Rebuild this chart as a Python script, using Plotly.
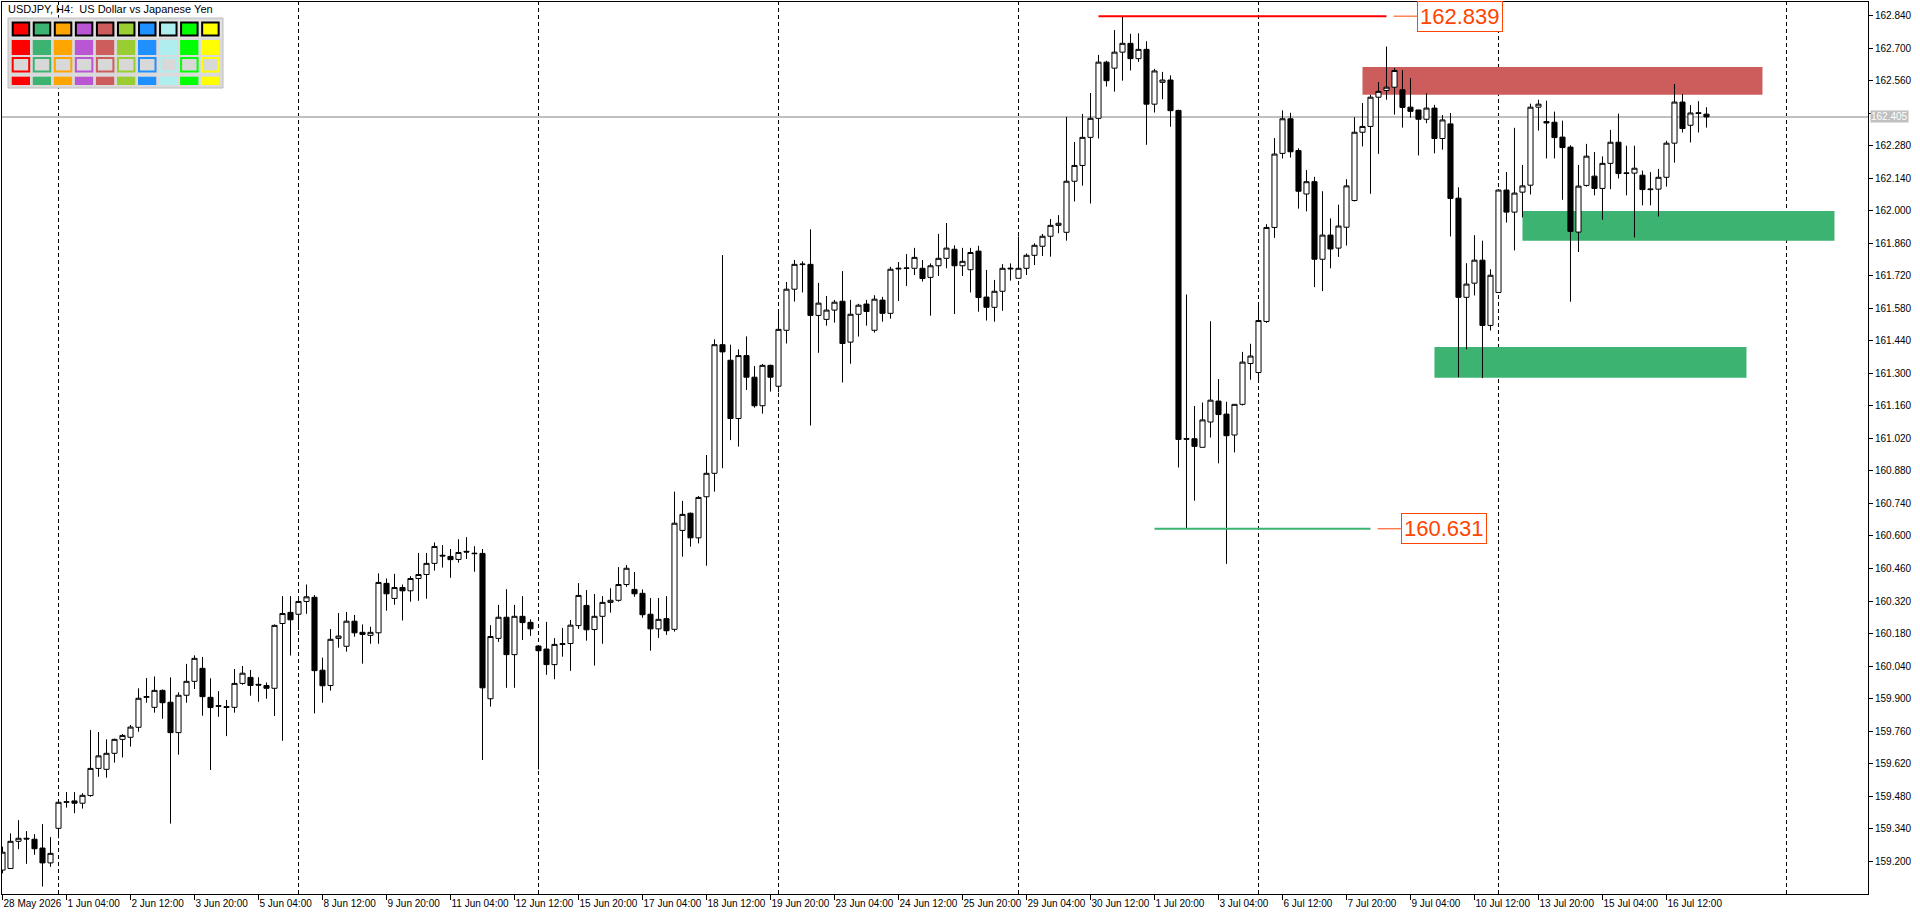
import plotly.graph_objects as go

# USDJPY H4 candles, bar 0 = 28 May 2026 20:00, one bar per 4 hours (weekends skipped)
open_ = [
    159.161, 159.168, 159.285, 159.298, 159.294, 159.256, 159.192, 159.341, 159.453, 159.459,
    159.449, 159.482, 159.599, 159.595, 159.664, 159.724, 159.733, 159.776, 159.905, 159.862,
    159.935, 159.884, 159.753, 159.914, 159.974, 160.030, 159.905, 159.869, 159.865, 159.862,
    159.965, 159.991, 159.961, 159.956, 159.944, 160.223, 160.271, 160.263, 160.318, 160.336,
    160.022, 159.956, 160.159, 160.125, 160.233, 160.185, 160.172, 160.183, 160.396, 160.331,
    160.378, 160.364, 160.417, 160.434, 160.482, 160.517, 160.512, 160.499, 160.534, 160.526,
    160.525, 159.899, 160.159, 160.250, 160.089, 160.254, 160.228, 160.126, 160.113, 160.046,
    160.133, 160.137, 160.214, 160.301, 160.197, 160.254, 160.314, 160.323, 160.391, 160.370,
    160.353, 160.263, 160.200, 160.244, 160.198, 160.624, 160.698, 160.592, 160.769, 160.870,
    161.424, 161.357, 161.106, 161.377, 161.284, 161.161, 161.335, 161.245, 161.486, 161.663,
    161.769, 161.770, 161.550, 161.533, 161.573, 161.611, 161.435, 161.555, 161.599, 161.486,
    161.616, 161.559, 161.750, 161.753, 161.753, 161.753, 161.714, 161.764, 161.796, 161.835,
    161.764, 161.747, 161.827, 161.629, 161.585, 161.654, 161.750, 161.710, 161.753, 161.809,
    161.848, 161.891, 161.938, 161.908, 162.128, 162.196, 162.317, 162.399, 162.641, 162.615,
    162.684, 162.722, 162.656, 162.696, 162.460, 162.554, 162.564, 162.433, 161.020, 161.019,
    160.982, 161.091, 161.181, 161.125, 161.035, 161.167, 161.343, 161.304, 161.524, 161.929,
    162.248, 162.397, 162.260, 162.073, 162.126, 161.792, 161.896, 161.840, 161.930, 162.045,
    162.339, 162.364, 162.490, 162.519, 162.533, 162.522, 162.447, 162.435, 162.395, 162.443,
    162.312, 162.375, 162.055, 161.628, 161.689, 161.788, 161.507, 161.649, 162.090, 161.995,
    162.081, 162.111, 162.447, 162.385, 162.382, 162.318, 162.275, 161.909, 162.110, 162.150,
    162.097, 162.205, 162.296, 162.164, 162.163, 162.154, 162.095, 162.094, 162.145, 162.292,
    162.469, 162.369, 162.423, 162.417,
]
high = [
    159.262, 159.319, 159.376, 159.329, 159.316, 159.359, 159.303, 159.463, 159.497, 159.497,
    159.492, 159.764, 159.756, 159.724, 159.727, 159.747, 159.786, 159.944, 159.988, 159.995,
    159.939, 159.991, 159.927, 160.049, 160.086, 160.079, 159.987, 159.932, 159.894, 160.027,
    160.040, 160.023, 159.992, 159.969, 160.219, 160.341, 160.341, 160.324, 160.391, 160.346,
    160.076, 160.199, 160.268, 160.273, 160.260, 160.219, 160.209, 160.439, 160.417, 160.437,
    160.391, 160.427, 160.527, 160.527, 160.572, 160.561, 160.544, 160.586, 160.595, 160.556,
    160.544, 160.216, 160.303, 160.371, 160.303, 160.341, 160.241, 160.129, 160.230, 160.160,
    160.204, 160.238, 160.397, 160.367, 160.350, 160.341, 160.375, 160.466, 160.475, 160.445,
    160.370, 160.333, 160.333, 160.341, 160.791, 160.751, 160.701, 160.772, 160.949, 161.447,
    161.810, 161.424, 161.404, 161.460, 161.332, 161.341, 161.338, 161.563, 161.694, 161.789,
    161.783, 161.921, 161.690, 161.634, 161.617, 161.741, 161.617, 161.600, 161.617, 161.637,
    161.630, 161.759, 161.780, 161.814, 161.841, 161.789, 161.774, 161.901, 161.948, 161.852,
    161.841, 161.841, 161.850, 161.746, 161.703, 161.771, 161.774, 161.890, 161.817, 161.861,
    161.901, 161.965, 161.982, 162.405, 162.297, 162.418, 162.508, 162.672, 162.647, 162.779,
    162.839, 162.763, 162.765, 162.731, 162.612, 162.599, 162.584, 162.436, 161.640, 161.160,
    161.175, 161.525, 161.276, 161.178, 161.167, 161.393, 161.428, 161.605, 161.943, 162.314,
    162.433, 162.423, 162.270, 162.176, 162.147, 162.085, 161.968, 162.027, 162.137, 162.404,
    162.465, 162.500, 162.555, 162.708, 162.616, 162.607, 162.572, 162.435, 162.507, 162.457,
    162.413, 162.422, 162.102, 161.775, 161.896, 161.872, 161.749, 162.094, 162.168, 162.358,
    162.198, 162.462, 162.479, 162.475, 162.428, 162.389, 162.283, 162.198, 162.289, 162.254,
    162.235, 162.349, 162.419, 162.281, 162.281, 162.174, 162.167, 162.181, 162.302, 162.547,
    162.504, 162.456, 162.473, 162.447,
]
low = [
    159.147, 159.167, 159.251, 159.188, 159.227, 159.090, 159.175, 159.298, 159.430, 159.406,
    159.426, 159.477, 159.563, 159.559, 159.624, 159.646, 159.693, 159.757, 159.882, 159.839,
    159.813, 159.361, 159.658, 159.882, 159.941, 159.826, 159.592, 159.821, 159.738, 159.839,
    159.959, 159.912, 159.886, 159.899, 159.825, 159.718, 160.085, 160.195, 160.265, 159.836,
    159.882, 159.934, 160.119, 160.102, 160.166, 160.050, 160.136, 160.136, 160.278, 160.304,
    160.236, 160.317, 160.321, 160.330, 160.451, 160.464, 160.420, 160.485, 160.501, 160.446,
    159.635, 159.865, 160.144, 159.946, 159.946, 160.152, 160.170, 159.594, 160.002, 159.983,
    160.080, 160.019, 160.200, 160.149, 160.042, 160.136, 160.270, 160.317, 160.381, 160.338,
    160.248, 160.106, 160.161, 160.174, 160.188, 160.511, 160.554, 160.568, 160.472, 160.791,
    160.892, 161.013, 160.985, 161.229, 161.153, 161.127, 161.222, 161.219, 161.429, 161.610,
    161.649, 161.076, 161.389, 161.506, 161.519, 161.261, 161.342, 161.459, 161.506, 161.476,
    161.523, 161.536, 161.612, 161.677, 161.724, 161.696, 161.549, 161.720, 161.753, 161.556,
    161.720, 161.649, 161.566, 161.528, 161.523, 161.570, 161.700, 161.710, 161.724, 161.767,
    161.806, 161.803, 161.904, 161.872, 162.041, 162.109, 162.032, 162.312, 162.536, 162.514,
    162.561, 162.605, 162.642, 162.285, 162.424, 162.481, 162.363, 160.895, 160.631, 160.752,
    160.982, 161.024, 160.913, 160.480, 160.960, 161.162, 161.273, 161.262, 161.518, 161.884,
    162.226, 162.230, 162.010, 161.998, 161.672, 161.655, 161.753, 161.802, 161.851, 162.041,
    162.278, 162.074, 162.246, 162.479, 162.415, 162.359, 162.402, 162.239, 162.378, 162.248,
    162.264, 161.890, 161.284, 161.404, 161.636, 161.280, 161.485, 161.649, 161.950, 161.830,
    161.972, 162.071, 162.346, 162.226, 162.226, 162.048, 161.609, 161.823, 162.105, 162.067,
    161.962, 162.094, 162.140, 162.067, 161.886, 162.024, 162.024, 161.976, 162.105, 162.208,
    162.338, 162.295, 162.338, 162.359,
]
close = [
    159.238, 159.285, 159.298, 159.295, 159.253, 159.192, 159.233, 159.453, 159.455, 159.449,
    159.483, 159.599, 159.653, 159.664, 159.724, 159.741, 159.777, 159.901, 159.908, 159.935,
    159.882, 159.753, 159.914, 159.974, 160.073, 159.908, 159.861, 159.867, 159.862, 159.965,
    160.009, 159.956, 159.958, 159.944, 160.215, 160.266, 160.239, 160.318, 160.338, 160.020,
    159.955, 160.155, 160.169, 160.233, 160.183, 160.176, 160.185, 160.400, 160.351, 160.378,
    160.364, 160.417, 160.434, 160.482, 160.555, 160.514, 160.498, 160.529, 160.531, 160.524,
    159.946, 160.167, 160.250, 160.089, 160.254, 160.227, 160.200, 160.106, 160.046, 160.133,
    160.136, 160.216, 160.344, 160.196, 160.254, 160.314, 160.323, 160.391, 160.461, 160.351,
    160.261, 160.200, 160.241, 160.192, 160.655, 160.693, 160.592, 160.766, 160.870, 161.424,
    161.393, 161.106, 161.377, 161.284, 161.161, 161.335, 161.284, 161.490, 161.663, 161.770,
    161.771, 161.550, 161.603, 161.573, 161.607, 161.429, 161.555, 161.594, 161.567, 161.620,
    161.559, 161.749, 161.753, 161.754, 161.800, 161.709, 161.764, 161.796, 161.840, 161.764,
    161.783, 161.821, 161.627, 161.585, 161.654, 161.753, 161.753, 161.753, 161.809, 161.852,
    161.891, 161.938, 161.947, 162.128, 162.196, 162.317, 162.399, 162.641, 162.561, 162.684,
    162.722, 162.656, 162.696, 162.460, 162.603, 162.564, 162.432, 161.016, 161.017, 160.986,
    161.100, 161.185, 161.123, 161.032, 161.167, 161.349, 161.375, 161.528, 161.929, 162.245,
    162.397, 162.255, 162.085, 162.126, 161.792, 161.896, 161.836, 161.935, 162.108, 162.339,
    162.364, 162.490, 162.515, 162.533, 162.605, 162.446, 162.429, 162.395, 162.443, 162.312,
    162.392, 162.054, 161.628, 161.685, 161.788, 161.507, 161.723, 162.090, 161.995, 162.077,
    162.108, 162.447, 162.460, 162.379, 162.316, 162.273, 161.912, 162.107, 162.236, 162.097,
    162.205, 162.296, 162.161, 162.162, 162.184, 162.092, 162.092, 162.145, 162.292, 162.469,
    162.355, 162.422, 162.420, 162.405,
]

# time axis labels, one every 8 bars starting at bar 0
tick_labels = [
    "28 May 2026", "1 Jun 04:00", "2 Jun 12:00", "3 Jun 20:00", "5 Jun 04:00", "8 Jun 12:00",
    "9 Jun 20:00", "11 Jun 04:00", "12 Jun 12:00", "15 Jun 20:00", "17 Jun 04:00", "18 Jun 12:00",
    "19 Jun 20:00", "23 Jun 04:00", "24 Jun 12:00", "25 Jun 20:00", "29 Jun 04:00", "30 Jun 12:00",
    "1 Jul 20:00", "3 Jul 04:00", "6 Jul 12:00", "7 Jul 20:00", "9 Jul 04:00", "10 Jul 12:00",
    "13 Jul 20:00", "15 Jul 04:00", "16 Jul 12:00",
]
week_starts = [7, 37, 67, 97, 127, 157, 187, 223]   # period separators (bar index)

# price scale: 159.200 .. 162.840 every 0.140
price_ticks = [159.20, 159.34, 159.48, 159.62, 159.76, 159.90, 160.04, 160.18, 160.32,
               160.46, 160.60, 160.74, 160.88, 161.02, 161.16, 161.30, 161.44, 161.58,
               161.72, 161.86, 162.00, 162.14, 162.28, 162.42, 162.56, 162.70, 162.84]

bid_price = 162.405
high_mark = 162.839
high_mark_bars = [137, 173]
low_mark = 160.631
low_mark_bars = [144, 171]

# supply / demand zones: bar from, bar to, price bottom, price top
zone_bars = [[170, 220], [190, 229], [179, 218]]
zone_prices = [[162.501, 162.620], [161.872, 162.000], [161.282, 161.414]]
zone_colors = ["#CD5C5C", "#3CB371", "#3CB371"]

palette = ["#FF0000", "#3CB371", "#FFA500", "#BA55D3", "#CD5C5C",
           "#9ACD32", "#1E90FF", "#AFEEEE", "#00FF00", "#FFFF00"]

FONT = "Liberation Sans Narrow, Liberation Sans, Arial, sans-serif"
ORANGE = "#FF4500"
W, H = 1920, 915
ML, MR, MT, MB = 2, 52, 2, 21


def paper(x, y):
    # screen pixel -> paper coords (used only for the UI panel)
    return (x - ML) / (W - ML - MR), (H - MB - y) / (H - MT - MB)


def panel_rect(fig, x0, y0, x1, y1, **kw):
    px0, py0 = paper(x0, y0)
    px1, py1 = paper(x1, y1)
    fig.add_shape(type="rect", xref="paper", yref="paper",
                  x0=px0, y0=py1, x1=px1, y1=py0, **kw)


fig = go.Figure()
fig.add_trace(go.Candlestick(
    x=list(range(len(open_))), open=open_, high=high, low=low, close=close,
    increasing=dict(line=dict(color="black", width=1), fillcolor="white"),
    decreasing=dict(line=dict(color="black", width=1), fillcolor="black"),
    whiskerwidth=0, hoverinfo="skip", showlegend=False,
))

for (b0, b1), (p0, p1), col in zip(zone_bars, zone_prices, zone_colors):
    fig.add_shape(type="rect", x0=b0, x1=b1, y0=p0, y1=p1, fillcolor=col,
                  line=dict(width=0), layer="below")

for w in week_starts:
    fig.add_shape(type="line", x0=w, x1=w, y0=0, y1=1, yref="paper",
                  line=dict(color="black", width=1, dash="4px,3px"), layer="below")

fig.add_shape(type="line", x0=0, x1=1, xref="paper", y0=bid_price, y1=bid_price,
              line=dict(color="#C0C0C0", width=2), layer="below")

for price, bars, col in [(high_mark, high_mark_bars, "#FF0000"),
                         (low_mark, low_mark_bars, "#3CB371")]:
    fig.add_shape(type="line", x0=bars[0], x1=bars[1], y0=price, y1=price,
                  line=dict(color=col, width=2))
    fig.add_shape(type="line", x0=bars[1] + 0.9, x1=bars[1] + 3.8, y0=price, y1=price,
                  line=dict(color=ORANGE, width=1))
    fig.add_annotation(x=bars[1] + 3.8, y=price, text=f"{price:.3f}", showarrow=False,
                       xanchor="left", yanchor="middle",
                       font=dict(family=FONT, size=22, color=ORANGE),
                       bgcolor="white", bordercolor=ORANGE, borderwidth=1, borderpad=2)

# current bid tag on the price scale (covers the 162.420 level like the terminal does)
fig.add_annotation(x=1, xref="paper", y=bid_price, text=f"{bid_price:.3f}", showarrow=False,
                   xanchor="left", yanchor="middle", xshift=2,
                   font=dict(family=FONT, size=10, color="white"),
                   bgcolor="#C0C0C0", borderpad=0)

# symbol caption
cx, cy = paper(6, 9)
fig.add_annotation(x=cx, y=cy, xref="paper", yref="paper", xanchor="left", yanchor="middle",
                   text="USDJPY, H4:\u00a0 US Dollar vs Japanese Yen", showarrow=False,
                   font=dict(family=FONT, size=11, color="black"))

# colour picker panel
panel_rect(fig, 8, 18, 223, 88, fillcolor="#DADADA", line=dict(color="#BEBEBE", width=1))
panel_rect(fig, 9, 20, 222, 38, fillcolor="#E2E2E2", line=dict(width=0))
for k, col in enumerate(palette):
    x0 = 11.7 + 21.05 * k
    panel_rect(fig, x0 + 1, 22.5, x0 + 17.5, 35.5, fillcolor=col,
               line=dict(color="black", width=2))
    panel_rect(fig, x0, 40, x0 + 18.3, 55, fillcolor=col, line=dict(width=0))
    panel_rect(fig, x0 + 1, 58, x0 + 17.5, 71.5, fillcolor="#D8D8D8",
               line=dict(color=col, width=2))
    panel_rect(fig, x0, 76.7, x0 + 18.3, 85, fillcolor=col, line=dict(width=0))

fig.update_layout(
    width=W, height=H,
    margin=dict(l=ML, r=MR, t=MT, b=MB, autoexpand=False),
    plot_bgcolor="white", paper_bgcolor="white",
    font=dict(family=FONT, size=10, color="black"),
    boxgap=0.25, boxgroupgap=0.15,
    showlegend=False, hovermode=False,
)
fig.update_xaxes(
    range=[-0.0625, 233.19], rangeslider=dict(visible=False), automargin=False,
    tickmode="array", tickvals=[8 * i for i in range(len(tick_labels))], ticktext=tick_labels,
    tickangle=0, ticklabelposition="outside right", ticks="outside", ticklen=5, tickcolor="black",
    showgrid=False, zeroline=False, showline=True, mirror=True, linecolor="black", linewidth=1,
    tickfont=dict(family=FONT, size=10, color="black"),
)
fig.update_yaxes(
    side="right", range=[159.058, 162.900], automargin=False,
    tickmode="array", tickvals=price_ticks,
    ticktext=["" if abs(p - 162.42) < 1e-6 else f"{p:.3f}" for p in price_ticks],
    ticks="outside", ticklen=4, tickcolor="black",
    showgrid=False, zeroline=False, showline=True, mirror=True, linecolor="black", linewidth=1,
    tickfont=dict(family=FONT, size=10, color="black"),
)

fig.write_html("out.html", config={"displayModeBar": False},
               post_script="document.body.style.margin='0';document.body.style.overflow='hidden';")
